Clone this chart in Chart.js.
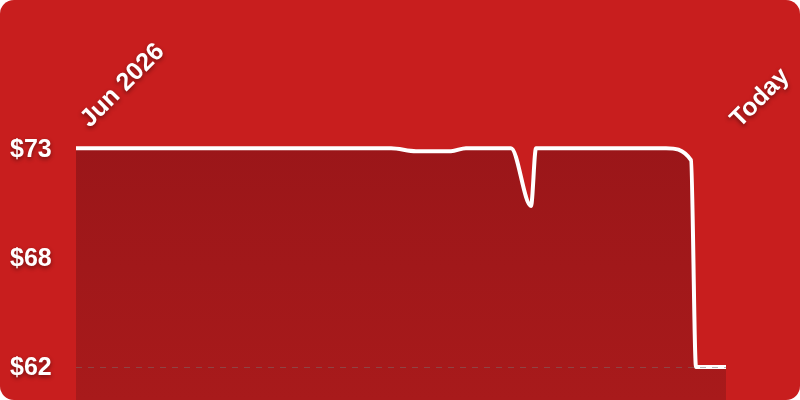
<!DOCTYPE html>
<html lang="en">
<head>
<meta charset="utf-8"/>
<title>Price history</title>
<style>
  body, html {
    margin: 0;
    padding: 0;
    background: #fff;
  }
  .card {
    width: 800px;
    height: 400px;
    background: #C81E1E;
    border-radius: 14px;
    overflow: hidden;
    position: relative;
  }
</style>
</head>
<body>
<div class="card">
  <canvas id="chart"></canvas>
</div>
<script src="https://cdn.jsdelivr.net/npm/chart.js"></script>
<script>
  // days since the first recorded price, and the price on that day
  const days = [0, 63, 68, 75, 78, 87, 91, 92, 118, 123, 124, 130];
  const prices = [73, 73, 72.85, 72.85, 73, 73, 70.1, 73, 73, 72.4, 62, 62];

  // tick labels
  const xTickDays = [0, 130];
  const xTickLabels = ['Jun 2026', 'Today'];
  const yTickValues = [62, 67.5, 73];

  const FONT = "'Liberation Sans', Arial, Helvetica, sans-serif";

  // soft shadow behind the tick labels only
  const labelShadow = {
    id: 'labelShadow',
    beforeDraw(chart) {
      Object.values(chart.scales).forEach(s => {
        if (s._shadowed) return;
        const orig = s.drawLabels.bind(s);
        s.drawLabels = function (area) {
          const ctx = this.ctx;
          ctx.save();
          ctx.shadowColor = 'rgba(0,0,0,0.45)';
          ctx.shadowBlur = 4;
          ctx.shadowOffsetY = 2;
          orig(area);
          ctx.restore();
        };
        s._shadowed = true;
      });
    }
  };

  const ctx = document.getElementById('chart').getContext('2d');
  new Chart(ctx, {
    type: 'line',
    data: {
      datasets: [{
        data: days.map((d, i) => ({ x: d, y: prices[i] })),
        borderColor: '#ffffff',
        borderWidth: 4,
        pointRadius: 0,
        cubicInterpolationMode: 'monotone',
        fill: 'start',
        backgroundColor: (c) => {
          const area = c.chart.chartArea;
          if (!area) return '#A01819';
          const g = c.chart.ctx.createLinearGradient(0, area.top, 0, area.bottom);
          g.addColorStop(0, '#9A1619');
          g.addColorStop(1, '#A81A1B');
          return g;
        }
      }]
    },
    options: {
      responsive: true,
      maintainAspectRatio: false,
      animation: false,
      layout: { padding: { left: 10, right: 74, top: 0, bottom: 0 } },
      plugins: {
        legend: { display: false },
        tooltip: { enabled: false }
      },
      scales: {
        x: {
          type: 'linear',
          position: 'top',
          min: days[0],
          max: days[days.length - 1],
          afterBuildTicks: (axis) => {
            axis.ticks = xTickDays.map(v => ({ value: v }));
          },
          afterFit: (axis) => {
            axis.height = 132;
          },
          ticks: {
            autoSkip: false,
            maxRotation: 45,
            minRotation: 45,
            padding: -10,
            labelOffset: 30,
            color: '#ffffff',
            font: { family: FONT, size: 25, weight: 'bold' },
            callback: (v) => xTickLabels[xTickDays.indexOf(v)]
          },
          grid: { display: false },
          border: { display: false }
        },
        y: {
          min: 60.343,
          max: 73.814,
          afterBuildTicks: (axis) => {
            axis.ticks = yTickValues.map(v => ({ value: v }));
          },
          afterFit: (axis) => {
            axis.width = 66;
            axis.paddingTop = 0;
            axis.paddingBottom = 0;
          },
          ticks: {
            padding: 0,
            labelOffset: 1.5,
            crossAlign: 'far',
            color: '#ffffff',
            font: { family: FONT, size: 25, weight: 'bold' },
            callback: (v) => '$' + Math.round(v)
          },
          grid: {
            z: 1,
            drawTicks: false,
            color: (c) => c.tick && c.tick.value === yTickValues[0] ? 'rgba(120,110,110,0.5)' : 'transparent',
            lineWidth: 1
          },
          border: { display: false, dash: [6, 6] }
        }
      }
    },
    plugins: [labelShadow]
  });
</script>
</body>
</html>
